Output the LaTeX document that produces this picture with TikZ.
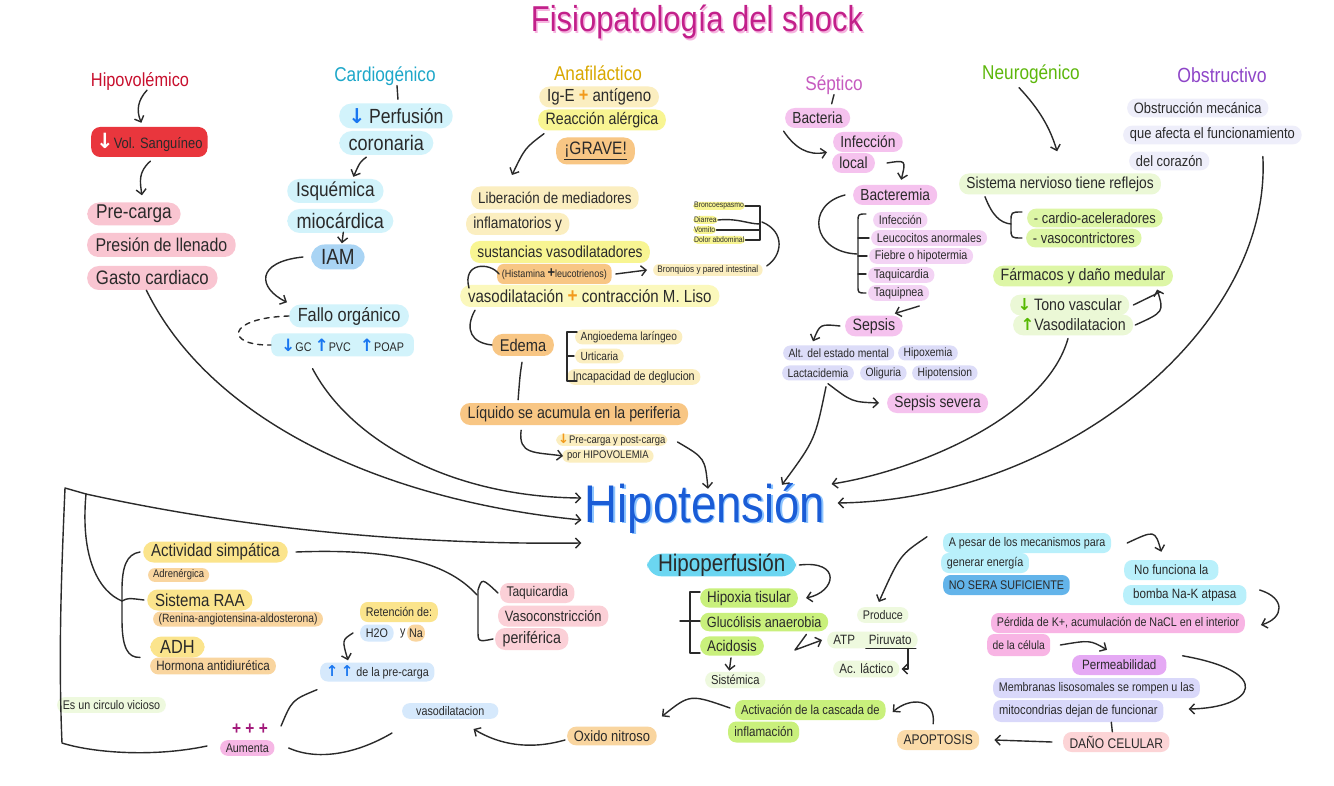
\documentclass[tikz,border=0pt]{standalone}
\usepackage{fontspec}
\setmainfont{Liberation Sans}[FakeStretch=0.86]
\newfontfamily\symf{DejaVu Sans}
\usetikzlibrary{arrows.meta}
\definecolor{ink}{HTML}{2A2A2A}
\definecolor{hred}{HTML}{C8102E}
\definecolor{redbox}{HTML}{E9363D}
\definecolor{pinkA}{HTML}{F9C5D1}
\definecolor{cyanT}{HTML}{1DA7C9}
\definecolor{cyanL}{HTML}{D2F3FB}
\definecolor{iamB}{HTML}{A9D4F4}
\definecolor{ablue}{HTML}{1976F0}
\definecolor{gold}{HTML}{D9A800}
\definecolor{yelL}{HTML}{FBEEC0}
\definecolor{yelB}{HTML}{F8F592}
\definecolor{yelM}{HTML}{FBF8BC}
\definecolor{orgB}{HTML}{F8C684}
\definecolor{orgP}{HTML}{F29A1B}
\definecolor{sepT}{HTML}{C65BBF}
\definecolor{sepP}{HTML}{F5C2EE}
\definecolor{sepL}{HTML}{F3D3F4}
\definecolor{lav}{HTML}{DCDCF8}
\definecolor{neuT}{HTML}{5DB70B}
\definecolor{neuL}{HTML}{EBF8D6}
\definecolor{neuG}{HTML}{DDF6A6}
\definecolor{obsT}{HTML}{8E45C8}
\definecolor{obsL}{HTML}{EEEEFA}
\definecolor{hpf}{HTML}{6BD6F1}
\definecolor{grn}{HTML}{C9F07C}
\definecolor{grnL}{HTML}{EEF9DE}
\definecolor{apC}{HTML}{B9F0FB}
\definecolor{nsB}{HTML}{63B4EA}
\definecolor{pkD}{HTML}{F8B4E4}
\definecolor{permC}{HTML}{E5A9F4}
\definecolor{memb}{HTML}{D9D8FA}
\definecolor{danoC}{HTML}{FCD4D6}
\definecolor{apopC}{HTML}{FBDBA9}
\definecolor{yel2}{HTML}{FBE48C}
\definecolor{org2}{HTML}{F9D59F}
\definecolor{pkT}{HTML}{FBD0D7}
\definecolor{bluL}{HTML}{D6E9FC}
\definecolor{aumP}{HTML}{F6B7E5}
\definecolor{magP}{HTML}{A3197B}
\definecolor{hblue}{HTML}{1A5CD6}
\definecolor{hblueL}{HTML}{8CC4FF}
\definecolor{titM}{HTML}{C2208A}
\definecolor{titL}{HTML}{F6B3DF}
\definecolor{grnA}{HTML}{55B800}
\newcommand{\fsz}[1]{\fontsize{#1}{#1}\selectfont}
\newcommand{\dar}[1]{{\symf\bfseries\color{#1}↓}}
\newcommand{\uar}[1]{{\symf\bfseries\color{#1}↑}}
\newcommand{\pls}[1]{{\bfseries\color{#1}+}}
\begin{document}
\begin{tikzpicture}[x=1pt,y=-1pt,
  line/.style={draw=ink, line width=1.4pt, line cap=round, line join=round},
  arr/.style={line, -{Straight Barb[length=5pt,width=10pt]}},
  b/.style 2 args={fill=#1, font=\fsz{#2}, text=ink, minimum height=#2*1.25pt, inner ysep=0pt, inner xsep=#2*0.45pt, rounded corners=#2*0.6pt, anchor=west},
  hd/.style 2 args={text=#1, font=\fsz{#2}, inner sep=0pt},
]
\useasboundingbox[fill=white] (0,0) rectangle (1334,786);

% ---------- title
\node[hd={titL}{36}] (titsh) at (698.5,23.5) {Fisiopatología del shock};
\node[hd={titM}{36}] (title) at (697,22) {Fisiopatología del shock};

% ---------- headers
\node[hd={hred}{19}] (hhipo) at (140,81) {Hipovolémico};
\node[hd={cyanT}{20}] (hcard) at (385,76) {Cardiogénico};
\node[hd={gold}{20}] (hana) at (598,73) {Anafiláctico};
\node[hd={sepT}{20}] (hsep) at (834,85) {Séptico};
\node[hd={neuT}{20}] (hneu) at (1031,74) {Neurogénico};
\node[hd={obsT}{20.5}] (hobs) at (1222,75) {Obstructivo};

% ---------- hipovolemico
\node[b={redbox}{15}, minimum height=30pt, inner xsep=5pt] (vol) at (91,142) {{\fsz{21}\dar{white}}Vol. Sanguíneo};
\node[b={pinkA}{20}, minimum height=23pt] (pre) at (87,214) {Pre-carga};
\node[b={pinkA}{18.5}, minimum height=24pt] (pres) at (87,245) {Presión de llenado};
\node[b={pinkA}{19.5}, minimum height=24pt] (gasto) at (87,278) {Gasto cardiaco};

% ---------- cardiogenico
\node[b={cyanL}{20.5}, minimum height=25pt] (perf) at (339,116) {\dar{ablue}\,Perfusión};
\node[b={cyanL}{21}, minimum height=24pt] (coron) at (339,143) {coronaria};
\node[b={cyanL}{20}, minimum height=24pt] (isq) at (287,191) {Isquémica};
\node[b={cyanL}{21}, minimum height=24pt] (mioc) at (287,221) {miocárdica};
\node[b={iamB}{22}, minimum height=25pt] (iam) at (311,257) {IAM};
\node[b={cyanL}{19}, minimum height=23pt] (fallo) at (289,316) {Fallo orgánico};
\node[b={cyanL}{12.5}, minimum height=23pt, inner xsep=10pt] (gc) at (271,345) {{\fsz{17}\dar{ablue}}GC\ {\fsz{17}\uar{ablue}}PVC\ \ \ {\fsz{17}\uar{ablue}}POAP};

% ---------- anafilactico
\node[b={yelL}{17.5}, minimum height=21pt] (ige) at (539,97) {Ig-E {\fsz{19}\pls{orgP}} antígeno};
\node[b={yelB}{16.5}, minimum height=21pt] (reac) at (538,120) {Reacción alérgica};
\node[b={orgB}{18}, minimum height=27pt] (grave) at (556,151) {\underline{¡GRAVE!}};
\node[b={yelL}{15.5}, minimum height=23pt] (lib) at (471,198) {Liberación de mediadores};
\node[b={yelL}{16}, minimum height=22pt] (infl) at (466,224) {inflamatorios y};
\node[b={yelB}{16}, minimum height=22pt] (sust) at (470,252) {sustancias vasodilatadores};
\node[b={orgB}{10.5}, minimum height=20pt] (hist) at (497,274) {(Histamina {\fsz{15}\pls{ink}}leucotrienos)};
\node[b={yelL}{9.5}] (bronq) at (653,270) {Bronquios y pared intestinal};
\node[b={yelM}{17.5}, minimum height=22pt] (vaso) at (460,296) {vasodilatación {\fsz{20}\pls{orgP}} contracción M. Liso};
\node[b={orgB}{17}, minimum height=22pt] (edema) at (492,345) {Edema};
\node[b={yelL}{11.8}] (angio) at (575,337) {Angioedema laríngeo};
\node[b={yelL}{11.8}] (urt) at (575,356) {Urticaria};
\node[b={yelL}{12.5}] (incap) at (567,377) {Incapacidad de deglucion};
\node[b={orgB}{16.5}, minimum height=22pt] (liq) at (460,414) {Líquido se acumula en la periferia};
\node[b={yelL}{11}, inner xsep=2pt, minimum height=11pt] (prec) at (556,440) {{\fsz{13}\dar{orgP}}Pre-carga y post-carga};
\node[b={yelL}{11}, minimum height=13pt] (hipov) at (562,456) {por HIPOVOLEMIA};
\node[b={yelB}{8}, minimum height=8pt, inner xsep=1pt] (bronco) at (693,206) {Broncoespasmo};
\node[b={yelB}{8}, minimum height=8pt, inner xsep=1pt] (diarr) at (693,220) {Diarrea};
\node[b={yelB}{8}, minimum height=8pt, inner xsep=1pt] (vomi) at (693,230) {Vomito};
\node[b={yelB}{8}, minimum height=8pt, inner xsep=1pt] (dolor) at (693,240) {Dolor abdominal};

% ---------- septico
\node[b={sepP}{16}] (bact) at (785,118) {Bacteria};
\node[b={sepP}{16}] (infec) at (833,142) {Infección};
\node[b={sepP}{16}] (local) at (832,163) {local};
\node[b={sepP}{16}] (bactm) at (853,195) {Bacteremia};
\node[b={sepL}{12.5}] (s1) at (873,220) {Infección};
\node[b={sepL}{12.5}] (s2) at (871,238) {Leucocitos anormales};
\node[b={sepL}{12.5}] (s3) at (869,256) {Fiebre o hipotermia};
\node[b={sepL}{12.5}] (s4) at (868,275) {Taquicardia};
\node[b={sepL}{12.5}] (s5) at (868,293) {Taquipnea};
\node[b={sepP}{16.5}] (sepsis) at (845,326) {Sepsis};
\node[b={lav}{12}] (alt) at (783,353) {Alt. del estado mental};
\node[b={lav}{12}] (hipox) at (898,353) {Hipoxemia};
\node[b={lav}{12}] (lact) at (782,373) {Lactacidemia};
\node[b={lav}{12}] (olig) at (860,373) {Oliguria};
\node[b={lav}{12}] (hipots) at (912,373) {Hipotension};
\node[b={sepP}{16}] (sevr) at (887,403) {Sepsis severa};

% ---------- neurogenico
\node[b={neuL}{16}, minimum height=21pt] (sist) at (959,184) {Sistema nervioso tiene reflejos};
\node[b={neuG}{15}] (cardio) at (1027,218) {- cardio-aceleradores};
\node[b={neuG}{15}] (vcon) at (1026,238) {- vasocontrictores};
\node[b={neuG}{16.5}] (farm) at (993,276) {Fármacos y daño medular};
\node[b={neuL}{16.5}] (tono) at (1010,305) {\dar{grnA}\,Tono vascular};
\node[b={neuL}{16.5}] (vdil) at (1013,325) {\uar{grnA}Vasodilatacion};

% ---------- obstructivo
\node[b={obsL}{15}] (ob1) at (1127,108) {Obstrucción mecánica};
\node[b={obsL}{15}] (ob2) at (1123,135) {que afecta el funcionamiento};
\node[b={obsL}{15}] (ob3) at (1129,161) {del corazón};

% ---------- centre
\node[hd={hblueL}{53}] (hipotsh) at (706.5,509.5) {Hipotensión};
\node[hd={hblue}{53}] (hipot) at (705,508) {Hipotensión};

\node[b={hpf}{24}, minimum height=22pt] (hipop) at (647,565) {Hipoperfusión};
\node[b={grn}{15.5}] (hipx) at (700,598) {Hipoxia tisular};
\node[b={grn}{14.8}] (gluc) at (700,622) {Glucólisis anaerobia};
\node[b={grn}{15.5}] (acid) at (700,646) {Acidosis};
\node[b={grnL}{13}] (sistem) at (705,680) {Sistémica};
\node[b={grnL}{12.5}] (produce) at (857,615) {Produce};
\node[b={grnL}{13.5}] (atp) at (827,640) {ATP\hspace{14pt}Piruvato};
\node[b={grnL}{13.5}] (aclac) at (833,669) {Ac. láctico};
\node[b={grn}{13}, minimum height=20pt] (activ) at (735,710) {Activación de la cascada de};
\node[b={grn}{13.5}, minimum height=21pt] (inflam) at (728,732) {inflamación};
\node[b={org2}{15}] (oxido) at (567,736) {Oxido nitroso};
\node[b={bluL}{12.5}, inner xsep=14pt] (vdl) at (402,711) {vasodilatacion};

% ---------- right bottom
\node[b={apC}{12.5}, minimum height=20pt] (ap1) at (943,543) {A pesar de los mecanismos para};
\node[b={apC}{12.5}, minimum height=20pt] (ap2) at (941,563) {generar energía};
\node[b={nsB}{12.5}, minimum height=20pt] (nosuf) at (943,585) {NO SERA SUFICIENTE};
\node[b={apC}{13.5}, minimum height=20pt, inner xsep=10pt] (nof1) at (1124,570) {No funciona la};
\node[b={apC}{13.5}, minimum height=20pt, inner xsep=10pt] (nof2) at (1123,595) {bomba Na-K atpasa};
\node[b={pkD}{12.5}, minimum height=20pt] (perd) at (991,623) {Pérdida de K+, acumulación de NaCL en el interior};
\node[b={pkD}{12}, minimum height=22pt] (cel) at (987,645) {de la célula};
\node[b={permC}{13.5}, minimum height=20pt, inner xsep=10pt] (perm) at (1072,665) {Permeabilidad};
\node[b={memb}{12.5}, minimum height=20pt] (memb1) at (993,688) {Membranas lisosomales se rompen u las};
\node[b={memb}{13}, minimum height=22pt] (memb2) at (993,711) {mitocondrias dejan de funcionar};
\node[b={danoC}{14}, minimum height=20pt] (dano) at (1063,742) {DAÑO CELULAR};
\node[b={apopC}{14}, minimum height=20pt] (apop) at (897,740) {APOPTOSIS};

% ---------- left bottom
\node[b={yel2}{17.5}, minimum height=21pt] (act) at (143,552) {Actividad simpática};
\node[b={org2}{11}] (adr) at (148,575) {Adrenérgica};
\node[b={yel2}{17.5}, minimum height=21pt] (raa) at (147,600) {Sistema RAA};
\node[b={org2}{12}] (ren) at (153,619) {(Renina-angiotensina-aldosterona)};
\node[b={yel2}{19}, minimum height=21pt, inner xsep=10pt] (adh) at (150,647) {ADH};
\node[b={org2}{13.5}] (horm) at (150,666) {Hormona antidiurética};
\node[b={grnL}{12.5}] (circ) at (57,705) {Es un circulo vicioso};
\node[hd={magP}{18}, font=\fsz{18}\bfseries] (plus) at (250,729) {+ + +};
\node[b={aumP}{12.5}] (aum) at (220,748) {Aumenta};
\node[b={yel2}{12.5}, minimum height=20pt] (ret) at (360,612) {Retención de:};
\node[b={bluL}{12.5}, minimum height=17pt] (h2o) at (360,633) {H2O};
\node[hd={ink}{12.5}, anchor=west] (ylab) at (400,633) {y};
\node[b={org2}{12.5}, inner xsep=2pt, minimum height=17pt] (na) at (407,633) {Na};
\node[b={bluL}{12.5}, minimum height=19pt] (precg) at (320,672) {{\fsz{15}\uar{ablue}\,\uar{ablue}}\ de la pre-carga};
\node[b={pkT}{14}, minimum height=20pt] (taq) at (500,593) {Taquicardia};
\node[b={pkT}{15}, minimum height=21pt] (vcons) at (498,616) {Vasoconstricción};
\node[b={pkT}{16.5}, minimum height=22pt] (perif) at (495,639) {periférica};

% ================= connectors
% hipovolemico
\draw[arr] ([xshift=7pt]hhipo.south) .. controls (138,100) and (136,110) .. ([xshift=-8pt,yshift=4pt]vol.north);
\draw[arr] ([xshift=1pt,yshift=-4pt]vol.south) .. controls (138,172) and (140,182) .. ([xshift=8pt,yshift=7pt]pre.north);
\draw[arr] ([xshift=-6pt]gasto.south) .. controls (210,420) and (380,500) .. ([xshift=-3pt,yshift=-12pt]hipot.west);

% cardiogenico
\draw[line] ([xshift=12pt]hcard.south) -- ([xshift=2pt,yshift=4pt]perf.north);
\draw[arr] ([xshift=-20pt,yshift=-2pt]coron.south) .. controls (360,162) .. ([xshift=18pt,yshift=2pt]isq.north);
\draw[arr] ([xshift=3pt,yshift=1pt]mioc.south) -- ([xshift=4pt,yshift=1pt]iam.north);
\draw[arr] ([xshift=-8pt]iam.west) .. controls (255,262) and (258,288) .. ([xshift=-2pt,yshift=2pt]fallo.north west);
\draw[line, dash pattern=on 5pt off 5pt] (fallo.west) .. controls (225,318) and (225,346) .. (gc.west);
\draw[arr] ([xshift=-30pt,yshift=-12pt]gc.south) .. controls (350,440) and (450,497) .. ([xshift=-3pt,yshift=10pt]hipot.west);

% anafilactico
\draw[arr] ([xshift=6pt,yshift=-3pt]reac.south west) .. controls (525,148) .. (512,175);
\draw[line] (469,288) .. controls (462,262) and (490,262) .. ([xshift=2pt]hist.west);
\draw[arr] ([xshift=4pt]hist.east) -- ([xshift=-6pt]bronq.west);
\draw[line] ([xshift=15pt,yshift=-3pt]vaso.south west) .. controls (464,330) and (472,343) .. (edema.west);
\draw[line] (577,332) -- (567,332) -- (567,381) -- (577,381) (567,356) -- (574,356);
\draw[line] ([xshift=-1pt,yshift=-6pt]edema.south) .. controls (520,375) .. ([xshift=-56pt,yshift=3pt]liq.north);
\draw[arr] ([xshift=-53pt,yshift=-5pt]liq.south) .. controls (518,455) and (535,452) .. ([xshift=1pt]hipov.west);
\draw[arr] ([xshift=10pt,yshift=-2pt]prec.east) .. controls (705,458) .. ([xshift=3pt,yshift=-6pt]hipot.north);
% bracket gastro
\draw[line] (bronco.east) -- (760,206) -- (760,240) -- (dolor.east);
\draw[line] (vomi.east) -- (760,230);
\draw[line] (diarr.east) .. controls (738,218) and (748,224) .. (760,224);
\draw[line] (762,222) .. controls (786,232) and (782,256) .. ([xshift=4pt,yshift=-2pt]bronq.north east);

% septico
\draw[line] (hsep.south) -- ([xshift=14pt,yshift=4pt]bact.north);
\draw[arr] ([xshift=-34pt,yshift=-3pt]bact.south) .. controls (795,148) and (808,156) .. ([xshift=-6pt]infec.south west);
\draw[arr] ([xshift=12pt]local.east) .. controls (906,160) .. ([xshift=6pt,yshift=5pt]bactm.north);
\draw[line] ([xshift=-8pt]bactm.west) .. controls (805,205) and (812,252) .. (857,254);
\draw[line] (866,214) .. controls (858,214) .. (858,222) -- (858,286) .. controls (858,293) .. (866,293);
\draw[line] (858,238) -- (869,238) (858,256) -- (867,256) (858,274) -- (866,274);
\draw[arr] ([xshift=-10pt,yshift=-5pt]s5.south east) -- ([xshift=-8pt,yshift=2pt]sepsis.north east);
\draw[arr] ([xshift=-5pt]sepsis.west) .. controls (820,324) .. ([xshift=30pt,yshift=4pt]alt.north west);
\draw[arr] ([xshift=10pt,yshift=-3pt]lact.south) .. controls (852,402) .. ([xshift=-8pt]sevr.west);
\draw[arr] ([xshift=8pt,yshift=-6pt]lact.south) .. controls (815,440) .. ([xshift=77pt,yshift=-2pt]hipot.north);

% neurogenico
\draw[arr] ([xshift=-12pt,yshift=-4pt]hneu.south) .. controls (1040,110) and (1050,128) .. ([xshift=-3pt,yshift=22pt]sist.north);
\draw[line] ([xshift=26pt,yshift=-2pt]sist.south west) .. controls (992,215) and (1000,223) .. (1011,224);
\draw[line] (1022,212) .. controls (1011,212) .. (1011,222) -- (1011,228) .. controls (1011,238) .. (1022,238);
\draw[arr] ([xshift=2pt]vdil.east) .. controls (1164,312) .. ([xshift=-16pt,yshift=-3pt]farm.south east);
\draw[line] ([xshift=4pt]tono.east) -- (1160,292);
\draw[arr] ([xshift=55pt,yshift=-3pt]vdil.south west) .. controls (1045,420) and (910,472) .. ([xshift=6pt,yshift=24pt]hipot.east);

% obstructivo
\draw[arr] ([xshift=-3pt,yshift=-2pt]ob2.south east) ++(-36pt,-10pt) .. controls (1272,330) and (1060,500) .. ([xshift=12pt,yshift=5pt]hipot.east);

% hipoperfusion
\draw[arr] ([xshift=3pt]hipop.east) .. controls (842,560) and (836,592) .. ([xshift=8pt]hipx.east);
\draw[line] (700,592) -- (690,592) -- (690,653) -- (700,653) (680,621) -- (700,621);
\draw[arr] ([xshift=-1pt,yshift=-2pt]acid.south) -- ([xshift=-6pt,yshift=1pt]sistem.north);
\draw[arr] ([xshift=-22pt,yshift=-3pt]gluc.south east) -- (795,650) -- ([xshift=-5pt]atp.west);
\draw[line] ([xshift=-52pt]atp.south east) -- ([xshift=-2pt]atp.south east);
\draw[arr] ([xshift=-10pt]atp.south east) |- ([xshift=2pt]aclac.east);
\draw[arr] ([xshift=-16pt,yshift=-4pt]ap1.north west) .. controls (900,555) .. ([xshift=-4pt,yshift=5pt]produce.north);
\draw[arr] ([xshift=16pt]ap1.east) .. controls (1155,530) .. ([xshift=-10pt,yshift=8pt]nof1.north);
\draw[arr] ([xshift=13pt,yshift=5pt]nof2.east) .. controls (1286,598) and (1284,618) .. ([xshift=16pt,yshift=-2pt]perd.east);
\draw[arr] ([xshift=10pt]cel.east) .. controls (1090,640) .. ([xshift=35pt,yshift=5pt]perm.north west);
\draw[arr] ([xshift=16pt,yshift=-1pt]perm.north east) .. controls (1275,672) and (1255,708) .. ([xshift=25pt,yshift=2pt]memb2.east);
\draw[line] ([xshift=33pt]memb2.south) -- ([xshift=-4pt]dano.north);
\draw[arr] ([xshift=-11pt]dano.west) -- ([xshift=15pt]apop.east);
\draw[arr] ([xshift=-5pt,yshift=6pt]apop.north) .. controls (936,698) and (910,697) .. ([xshift=7pt,yshift=-2pt]activ.east);
\draw[arr] ([xshift=-5pt,yshift=2pt]activ.west) .. controls (690,694) .. ([xshift=5pt,yshift=10pt]oxido.north east);
\draw[arr] ([xshift=-2pt,yshift=-4pt]oxido.west) .. controls (530,750) and (500,745) .. ([xshift=-25pt,yshift=-10pt]vdl.south east);

% left bottom loop
\coordinate (corner) at (65,488);
\coordinate (fork) at (86,494);
\draw[line] ([xshift=-13pt,yshift=2pt]aum.west) .. controls (150,758) and (90,752) .. (62,743) .. controls (58,650) and (62,560) .. (corner) -- (fork);
\draw[arr] (fork) .. controls (250,530) and (420,545) .. ([xshift=-3pt,yshift=-35pt]hipot.west);
\draw[line] (fork) .. controls (80,560) and (100,592) .. (122,601);
\draw[line] ([xshift=-3pt]act.west) .. controls (126,554) and (122,568) .. (122,590) -- (122,620) .. controls (122,648) and (128,658) .. ([xshift=-10pt]horm.north west);
\draw[line] (122,601) .. controls (128,598) .. ([xshift=-3pt]raa.west);
\draw[line] ([xshift=8pt]act.east) .. controls (400,548) and (450,565) .. (477,595);
\draw[line] ([xshift=-2pt]taq.west) .. controls (482,578) .. (478,590) -- (478,630) .. controls (478,642) .. ([xshift=-2pt]perif.west);
\draw[line] ([xshift=14pt]aum.east) .. controls (320,762) and (360,752) .. ([xshift=-10pt,yshift=-14pt]vdl.south west);
\draw[line] ([xshift=13pt,yshift=3pt]plus.east) .. controls (292,700) .. ([xshift=-3pt,yshift=-8pt]precg.south west);
\draw[arr] ([xshift=-7pt]h2o.west) .. controls (342,640) .. ([xshift=28pt,yshift=2pt]precg.north west);

\end{tikzpicture}
\end{document}
